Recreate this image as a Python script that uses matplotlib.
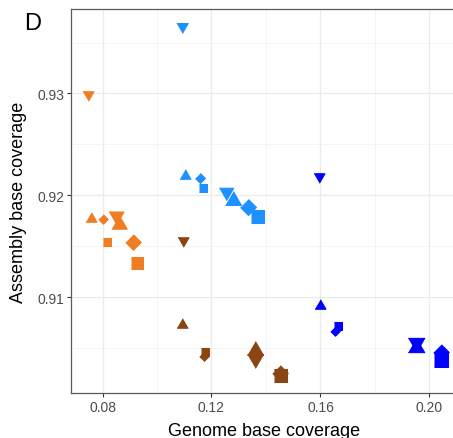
import matplotlib
matplotlib.use('Agg')
import matplotlib.pyplot as plt

plt.rcParams['font.family'] = ['Liberation Sans', 'DejaVu Sans']

# one row per point: group, shape, genome coverage, assembly coverage, size class
group = ['orange'] * 8 + ['dodgerblue'] * 8 + ['brown'] * 8 + ['blue'] * 8
shape = ['v', '^', 'D', 's', 'v', '^', 'D', 's',
         'v', '^', 'D', 's', 'v', '^', 'D', 's',
         'v', '^', 'D', 's', 'v', '^', 'D', 's',
         'v', '^', 'D', 's', 'v', '^', 'D', 's']
genome_cov = [0.0747, 0.0757, 0.0803, 0.0815, 0.0850, 0.0861, 0.0913, 0.0926,
              0.1091, 0.1103, 0.1156, 0.1170, 0.1253, 0.1280, 0.1335, 0.1366,
              0.1097, 0.1093, 0.1171, 0.1176, 0.1361, 0.1361, 0.1451, 0.1451,
              0.1595, 0.1598, 0.1652, 0.1666, 0.1950, 0.1950, 0.2042, 0.2042]
assembly_cov = [0.9298, 0.9179, 0.9177, 0.9154, 0.9178, 0.9174, 0.9154, 0.9133,
                0.9364, 0.9221, 0.9217, 0.9207, 0.9201, 0.9197, 0.9188, 0.9180,
                0.9154, 0.9074, 0.9042, 0.9046, 0.9037, 0.9050, 0.9025, 0.9023,
                0.9217, 0.9093, 0.9067, 0.9072, 0.9053, 0.9053, 0.9046, 0.9038]
size_px = [12, 12, 10.5, 8.7, 16, 16.5, 16.5, 13.3,
           12.5, 12, 11, 8.7, 15.5, 17, 17, 14,
           12, 12, 10.5, 8.7, 17, 17, 16.5, 14,
           12, 12, 10.5, 8.7, 17.5, 17.5, 16.5, 15]

colors = {'orange': '#EE7D24', 'dodgerblue': '#1E90FF',
          'brown': '#8B4513', 'blue': '#0000FF'}
verts = {'^': [(-1, -0.866), (1, -0.866), (0, 0.866)],
         'v': [(-1, 0.866), (1, 0.866), (0, -0.866)],
         'D': [(0, 1), (1, 0), (0, -1), (-1, 0)],
         's': [(-1, -1), (1, -1), (1, 1), (-1, 1)]}

fig = plt.figure(figsize=(4.53, 4.39), dpi=100)
ax = fig.add_axes([71 / 453, 45 / 439, (458 - 71) / 453, (394 - 10) / 439])

for g, sh, x, y, s in zip(group, shape, genome_cov, assembly_cov, size_px):
    ax.plot(x, y, linestyle='none', marker=verts[sh], color=colors[g],
            markersize=(s - 1) * 0.72, markeredgewidth=0.75,
            markeredgecolor=colors[g], zorder=3)

ax.set_xlim(0.06844, 0.21046)
ax.set_ylim(0.90057, 0.93830)
ax.set_xticks([0.08, 0.12, 0.16, 0.20])
ax.set_xticklabels(['0.08', '0.12', '0.16', '0.20'])
ax.set_xticks([0.10, 0.14, 0.18], minor=True)
ax.set_yticks([0.91, 0.92, 0.93])
ax.set_yticklabels(['0.91', '0.92', '0.93'])
ax.set_yticks([0.905, 0.915, 0.925, 0.935], minor=True)

ax.grid(which='major', color='#EBEBEB', linewidth=0.9, zorder=0)
ax.grid(which='minor', color='#F2F2F2', linewidth=0.6, zorder=0)
ax.set_axisbelow(True)

for side in ['left', 'top', 'bottom', 'right']:
    ax.spines[side].set_color('#595959')
    ax.spines[side].set_linewidth(0.9)

ax.tick_params(which='major', length=3, width=0.8, color='#333333',
               labelcolor='#4D4D4D', labelsize=10, pad=2)
ax.tick_params(which='minor', length=0)

ax.set_xlabel('Genome base coverage', fontsize=13, labelpad=6)
ax.set_ylabel('Assembly base coverage', fontsize=13, labelpad=7)

fig.text(24 / 453, 1 - 24 / 439, 'D', fontsize=17, ha='left', va='center')

fig.savefig('out.png', dpi=100)
